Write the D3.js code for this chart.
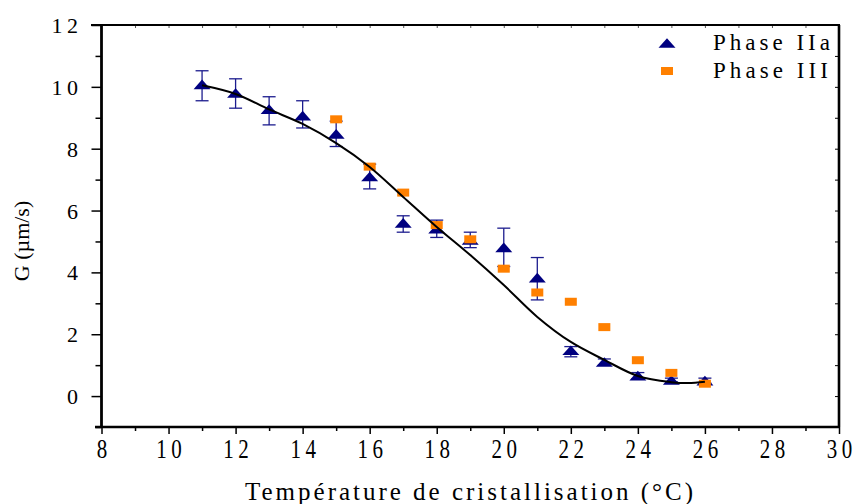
<!DOCTYPE html>
<html>
<head>
<meta charset="utf-8">
<script src="https://cdn.jsdelivr.net/npm/d3@7"></script>
<style>
  body { margin: 0; background: #fff; }
  svg { display: block; }
</style>
</head>
<body>
<div id="chart"></div>
<script>
// Phase IIa: growth rate with error bars
const tempsIIa = [11, 12, 13, 14, 15, 16, 17, 18, 19, 20, 21, 22, 23, 24, 25, 26];
const growthIIa = [10.08, 9.8, 9.28, 9.07, 8.48, 7.1, 5.6, 5.41, 5.05, 4.81, 3.83, 1.48, 1.1, 0.66, 0.52, 0.5];
const errHighIIa = [10.52, 10.26, 9.68, 9.55, 8.89, 7.5, 5.83, 5.69, 5.3, 5.43, 4.48, 1.6, 1.2, 0.76, 0.58, 0.58];
const errLowIIa = [9.55, 9.31, 8.77, 8.67, 8.07, 6.7, 5.3, 5.13, 4.8, 4.19, 3.11, 1.27, 1.0, 0.56, 0.46, 0.42];

// Phase III
const tempsIII = [15, 16, 17, 18, 19, 20, 21, 22, 23, 24, 25, 26];
const growthIII = [8.95, 7.42, 6.58, 5.53, 5.07, 4.12, 3.35, 3.05, 2.23, 1.16, 0.75, 0.4];

// fitted curve
const fitTemps = [11, 12, 13, 14, 15, 16, 17, 18, 19, 20, 21, 22, 23, 24, 25, 25.5, 26];
const fitValues = [10.05, 9.77, 9.27, 8.8, 8.18, 7.41, 6.44, 5.47, 4.56, 3.59, 2.56, 1.75, 1.17, 0.65, 0.45, 0.42, 0.46];

const xMajorTicks = [8, 10, 12, 14, 16, 18, 20, 22, 24, 26, 28, 30];
const xMinorTicks = [9, 11, 13, 15, 17, 19, 21, 23, 25, 27, 29];
const yMajorTicks = [0, 2, 4, 6, 8, 10, 12];
const yMinorTicks = [-1, 1, 3, 5, 7, 9, 11];

const legendLabels = ["Phase IIa", "Phase III"];
const xTitle = "Température de cristallisation (°C)";
const yTitle = "G (µm/s)";

const WIDTH = 853;
const HEIGHT = 504;
const LEFT = 101.5;
const RIGHT = 839;
const TOP = 25;
const BOTTOM = 427;
const NAVY = "#000080";
const ORANGE = "#ff8000";
const FONT = "Liberation Serif";

const x = d3.scaleLinear().domain([8, 30]).range([LEFT, RIGHT]);
const y = d3.scaleLinear().domain([-1, 12]).range([BOTTOM, TOP]);

const svg = d3
  .select("#chart")
  .append("svg")
  .attr("width", WIDTH)
  .attr("height", HEIGHT)
  .attr("viewBox", [0, 0, WIDTH, HEIGHT])
  .attr("font-family", FONT);

// axes (ticks only, frame drawn after)
function cleanAxis(g) {
  g.attr("font-family", FONT);
  g.select(".domain").remove();
  g.selectAll(".tick line").attr("stroke", "#000").attr("stroke-width", 1.5);
}

const gLeft = svg
  .append("g")
  .attr("transform", `translate(${LEFT},0)`)
  .call(d3.axisLeft(y).tickValues(yMajorTicks).tickSize(10).tickSizeOuter(0).tickFormat(d3.format("d")))
  .call(cleanAxis);
const yLS = 4.5;
gLeft
  .selectAll(".tick text")
  .attr("x", -(LEFT - 78) + yLS)
  .attr("dy", "0.34em")
  .attr("font-size", 22)
  .attr("letter-spacing", yLS)
  .attr("fill", "#000");

svg
  .append("g")
  .attr("transform", `translate(${LEFT},0)`)
  .call(d3.axisLeft(y).tickValues(yMinorTicks).tickSize(6).tickSizeOuter(0).tickFormat(""))
  .call(cleanAxis);

const gBottom = svg
  .append("g")
  .attr("transform", `translate(0,${BOTTOM})`)
  .call(d3.axisBottom(x).tickValues(xMajorTicks).tickSize(7).tickSizeOuter(0).tickFormat(d3.format("d")))
  .call(cleanAxis);
const xLS = 6;
const xSX = 0.75;
gBottom
  .selectAll(".tick text")
  .attr("y", null)
  .attr("dy", null)
  .attr("transform", `translate(${(xLS * xSX) / 2},31) scale(${xSX},1)`)
  .attr("font-size", 28)
  .attr("letter-spacing", xLS)
  .attr("fill", "#000");

svg
  .append("g")
  .attr("transform", `translate(0,${BOTTOM})`)
  .call(d3.axisBottom(x).tickValues(xMinorTicks).tickSize(4).tickSizeOuter(0).tickFormat(""))
  .call(cleanAxis);

// small inner ticks on top and right
svg
  .append("g")
  .attr("transform", `translate(0,${TOP})`)
  .call(d3.axisTop(x).tickValues(d3.range(9, 30)).tickSize(-3).tickSizeOuter(0).tickFormat(""))
  .call(cleanAxis)
  .selectAll(".tick line")
  .attr("stroke-width", 1)
  .attr("stroke", "#555");

svg
  .append("g")
  .attr("transform", `translate(${RIGHT},0)`)
  .call(d3.axisRight(y).tickValues(d3.range(0, 12)).tickSize(-4).tickSizeOuter(0).tickFormat(""))
  .call(cleanAxis)
  .selectAll(".tick line")
  .attr("stroke-width", 1);

// frame
const frame = svg.append("g").attr("stroke", "#000").attr("fill", "none");
frame.append("line").attr("x1", 91).attr("x2", RIGHT + 1).attr("y1", TOP).attr("y2", TOP).attr("stroke-width", 1.8);
frame.append("line").attr("x1", LEFT).attr("x2", LEFT).attr("y1", TOP).attr("y2", BOTTOM + 1).attr("stroke-width", 2.8);
frame.append("line").attr("x1", 95).attr("x2", RIGHT + 1).attr("y1", BOTTOM).attr("y2", BOTTOM).attr("stroke-width", 2.6);
frame.append("line").attr("x1", RIGHT).attr("x2", RIGHT).attr("y1", TOP).attr("y2", BOTTOM).attr("stroke-width", 2.6);

// error bars
const gErr = svg.append("g").attr("stroke", "#1c1c8e").attr("stroke-width", 1.3);
tempsIIa.forEach((t, i) => {
  const cx = x(t);
  const y1 = y(errHighIIa[i]);
  const y2 = y(errLowIIa[i]);
  gErr.append("line").attr("x1", cx).attr("x2", cx).attr("y1", y1).attr("y2", y2);
  gErr.append("line").attr("x1", cx - 6.5).attr("x2", cx + 6.5).attr("y1", y1).attr("y2", y1);
  gErr.append("line").attr("x1", cx - 6.5).attr("x2", cx + 6.5).attr("y1", y2).attr("y2", y2);
});

const TRI = "M0,-4.8L8.5,4.8L-8.5,4.8Z";

svg
  .append("g")
  .selectAll("path")
  .data(tempsIIa)
  .join("path")
  .attr("d", TRI)
  .attr("transform", (t, i) => `translate(${x(t)},${y(growthIIa[i])})`)
  .attr("fill", NAVY);

svg
  .append("g")
  .selectAll("rect")
  .data(tempsIII)
  .join("rect")
  .attr("x", (t) => x(t) - 6)
  .attr("y", (t, i) => y(growthIII[i]) - 4)
  .attr("width", 12)
  .attr("height", 8)
  .attr("fill", ORANGE);

// fit curve
const line = d3
  .line()
  .x((d) => x(d[0]))
  .y((d) => y(d[1]))
  .curve(d3.curveCatmullRom);
svg
  .append("path")
  .datum(fitTemps.map((t, i) => [t, fitValues[i]]))
  .attr("d", line)
  .attr("fill", "none")
  .attr("stroke", "#000")
  .attr("stroke-width", 2);

// legend
const legend = svg.append("g");
legend.append("path").attr("d", TRI).attr("transform", "translate(667,43)").attr("fill", NAVY);
legend.append("rect").attr("x", 661).attr("y", 67).attr("width", 12).attr("height", 8).attr("fill", ORANGE);
legend
  .selectAll("text")
  .data(legendLabels)
  .join("text")
  .attr("x", 713)
  .attr("y", (d, i) => 50 + i * 28)
  .attr("font-size", 23)
  .attr("textLength", (d, i) => (i === 0 ? 117 : 115))
  .attr("lengthAdjust", "spacing")
  .attr("fill", "#000")
  .text((d) => d);

// titles
svg
  .append("text")
  .attr("x", 245)
  .attr("y", 500)
  .attr("font-size", 25)
  .attr("textLength", 448)
  .attr("lengthAdjust", "spacing")
  .attr("fill", "#000")
  .text(xTitle);

svg
  .append("text")
  .attr("transform", "translate(29,241) rotate(-90)")
  .attr("text-anchor", "middle")
  .attr("font-size", 22)
  .attr("fill", "#000")
  .text(yTitle);
</script>
</body>
</html>
